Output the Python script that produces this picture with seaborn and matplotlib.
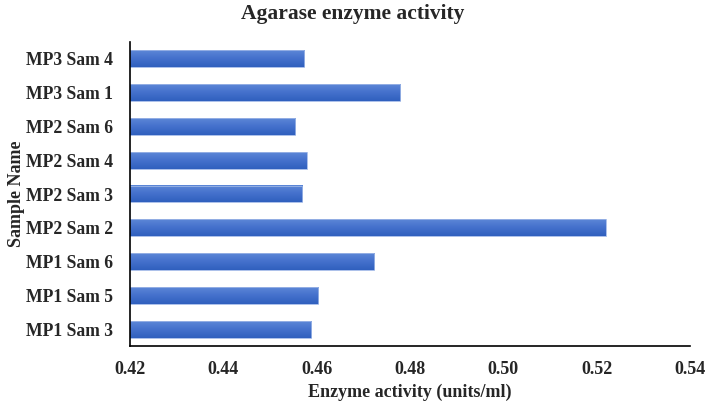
import pandas as pd
import seaborn as sns
import numpy as np
import matplotlib.pyplot as plt
from matplotlib.colors import LinearSegmentedColormap

samples = ["MP3 Sam 4", "MP3 Sam 1", "MP2 Sam 6", "MP2 Sam 4", "MP2 Sam 3",
           "MP2 Sam 2", "MP1 Sam 6", "MP1 Sam 5", "MP1 Sam 3"]
activity = [0.4573, 0.4779, 0.4554, 0.4579, 0.4569, 0.5220, 0.4723, 0.4603, 0.4588]
xticks = [0.42, 0.44, 0.46, 0.48, 0.50, 0.52, 0.54]

df = pd.DataFrame({"Sample Name": samples, "activity": activity})

sns.set_style("white")
plt.rcParams['font.family'] = ['Liberation Serif', 'DejaVu Serif']
plt.rcParams['font.weight'] = 'bold'

fig = plt.figure(figsize=(7.05, 4.03), dpi=100)
ax = fig.add_axes([0.1844, 0.1414, 0.7943, 0.7544])

sns.barplot(data=df, y="Sample Name", x="activity", order=samples,
            color="#4470CC", saturation=1, width=0.5, ax=ax,
            edgecolor="#9DB6E6", linewidth=0.6)

xmin, xmax = 0.42, 0.54

# vertical gradient on each bar (lighter top, darker bottom)
grad_cmap = LinearSegmentedColormap.from_list("bar", ["#5C87D7", "#4470CC", "#3060BE"])
grad = np.linspace(0, 1, 64).reshape(-1, 1)
for p in list(ax.patches):
    x0, y0 = p.get_x(), p.get_y()
    w, h = p.get_width(), p.get_height()
    ax.imshow(grad, cmap=grad_cmap, aspect="auto", interpolation="bilinear",
              extent=[max(x0, xmin), x0 + w, y0 + h, y0], origin="upper",
              zorder=p.get_zorder() - 0.1)
    p.set_facecolor("none")
ax.set_xlim(xmin, xmax)
ax.set_ylim(8.5, -0.5)

ax.set_xticks(xticks)
ax.set_xticklabels([f"{t:.2f}" for t in xticks], fontsize=13, fontweight="bold")
ax.tick_params(axis="y", labelsize=12.7, length=0, pad=12)
ax.tick_params(axis="x", length=0, pad=11)
for lab in ax.get_yticklabels():
    lab.set_fontweight("bold")

ax.set_xlabel("Enzyme activity (units/ml)", fontsize=13, fontweight="bold", labelpad=4)
ax.set_ylabel("Sample Name", fontsize=13, fontweight="bold")
ax.yaxis.set_label_coords(-0.188, 0.5)
fig.suptitle("Agarase enzyme activity", fontsize=15.5, fontweight="bold", x=0.5, y=0.99)

sns.despine(ax=ax)
ax.spines["left"].set_color("black")
ax.spines["bottom"].set_color("black")
ax.spines["left"].set_linewidth(1.2)
ax.spines["bottom"].set_linewidth(1.2)
ax.spines["left"].set_zorder(5)

fig.savefig("out.png", dpi=100)
